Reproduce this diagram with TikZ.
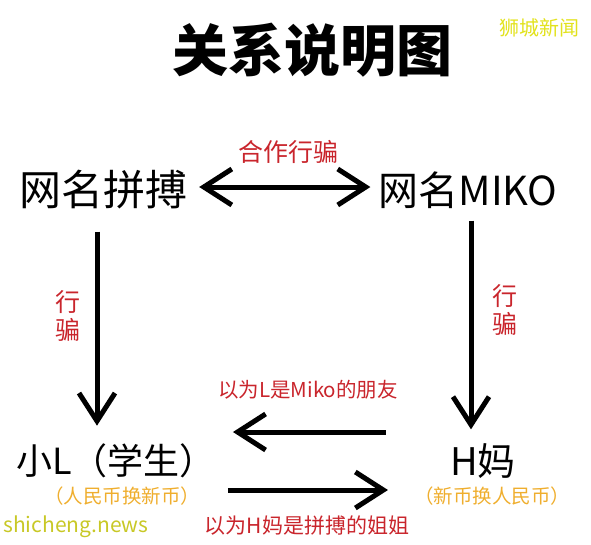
\documentclass[tikz,border=0pt]{standalone}
\usepackage{fontspec}
\setmainfont{Noto Sans CJK SC}
\usepackage{tikz}
\usetikzlibrary{arrows.meta}

\definecolor{lblred}{HTML}{C9252C}
\definecolor{noteorange}{HTML}{EFAE2E}
\definecolor{wmyellow}{HTML}{E2E21C}
\definecolor{wmgreen}{HTML}{C8C826}

\tikzset{
  person/.style={inner sep=0pt, font=\fontsize{42}{46}\selectfont},
  relarrow/.style={line width=5pt, -{Straight Barb[length=28pt, width=36pt]}},
  rellabel/.style={inner sep=0pt, text=lblred},
  swapnote/.style={inner sep=0pt, text=noteorange, font=\fontsize{19.5}{22}\selectfont},
}

\begin{document}
\begin{tikzpicture}[x=1pt, y=-1pt]
  \useasboundingbox (0,0) rectangle (591,544);

  % Title and watermarks
  \node[inner sep=0pt, font=\fontsize{56}{60}\selectfont\bfseries] (title) at (312,50) {关系说明图};
  \node[inner sep=0pt, text=wmyellow, font=\fontsize{20}{22}\selectfont] (wmtop) at (539,28) {狮城新闻};
  \node[inner sep=0pt, text=wmgreen, font=\fontsize{21}{24}\selectfont] (wmsite) at (76,527) {shicheng.news};

  % The four people
  \node[person] (pinbo) at (103,190) {网名拼搏};
  \node[person, font=\fontsize{40}{44}\selectfont] (miko) at (468,190) {网名MIKO};
  \node[person, font=\fontsize{36}{40}\selectfont] (xiaoL) at (116,461) {小L（学生）};
  \node[person, font=\fontsize{38}{42}\selectfont] (hma) at (483,461) {H妈};

  % What each one swaps
  \node[swapnote] (noteL) at (122,496) {（人民币换新币）};
  \node[swapnote] (noteH) at (492,496) {（新币换人民币）};

  % Partners in the scam
  \draw[relarrow, {Straight Barb[length=28pt, width=36pt]}-{Straight Barb[length=28pt, width=36pt]},
        shorten <=12pt, shorten >=8pt]
    ([yshift=3pt]pinbo.east) -- ([yshift=3pt]miko.west);
  \node[rellabel, font=\fontsize{25}{28}\selectfont] (partners) at (288,152) {合作行骗};

  % Scamming downwards
  \draw[relarrow, shorten <=22pt, shorten >=18pt]
    ([xshift=-6pt]pinbo.south) -- ([xshift=-19pt]xiaoL.north);
  \draw[relarrow, shorten <=12pt, shorten >=14pt]
    ([xshift=3pt]miko.south) -- ([xshift=-12pt]hma.north);
  \node[rellabel, align=center, font=\fontsize{25}{28}\selectfont] (scamL) at (68,316) {行\\骗};
  \node[rellabel, align=center, font=\fontsize{25}{28}\selectfont] (scamH) at (505,310) {行\\骗};

  % What each victim was told
  \draw[relarrow, shorten <=64pt, shorten >=17pt]
    ([yshift=29pt]hma.west) -- ([yshift=29pt]xiaoL.east);
  \node[rellabel, font=\fontsize{20.5}{24}\selectfont] (beliefL) at (308,390) {以为L是Miko的朋友};
  \draw[relarrow, shorten <=12pt, shorten >=62pt]
    ([yshift=-29pt]xiaoL.east) -- ([yshift=-29pt]hma.west);
  \node[rellabel, font=\fontsize{21}{24}\selectfont] (beliefH) at (307,526) {以为H妈是拼搏的姐姐};
\end{tikzpicture}
\end{document}
